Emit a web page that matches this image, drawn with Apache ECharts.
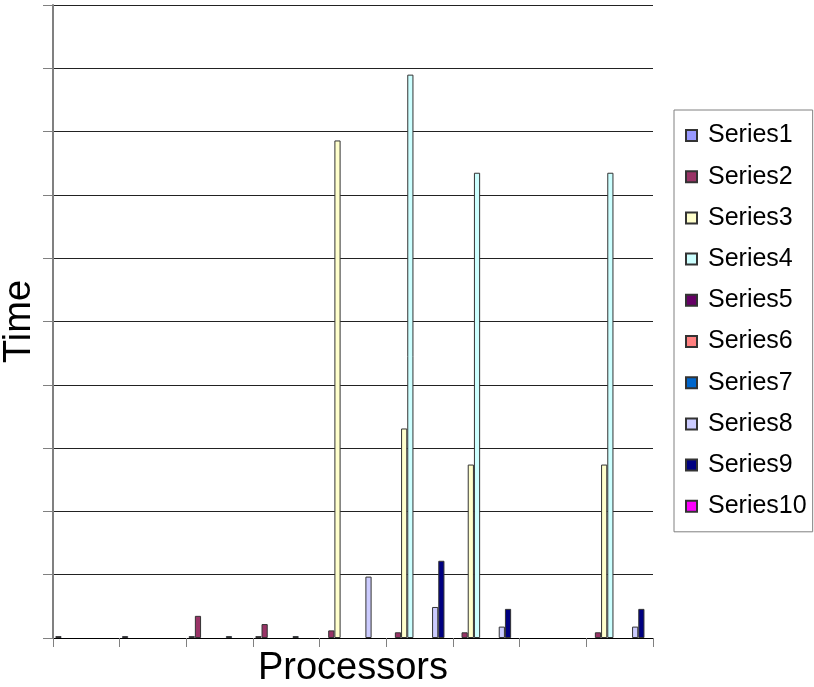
<!DOCTYPE html>
<html>
<head>
<meta charset="utf-8">
<title>Time vs Processors</title>
<script src="https://cdn.jsdelivr.net/npm/echarts@6/dist/echarts.min.js"></script>
<style>
  html, body { margin: 0; padding: 0; background: #fff; }
  #chart { width: 814px; height: 687px; }
</style>
</head>
<body>
<div id="chart"></div>
<script>
// Processor-count groups along the x axis (labels are not drawn)
const categories = ['1', '2', '3', '4', '5', '6', '7', '8', '9'];

// Timings per series; null means no bar in that group
const series1  = [3, 3, 3, 3, null, null, null, null, null];
const series2  = [null, null, 35, 22, 12, 9, 9, null, 9];
const series3  = [null, null, null, null, 786, 331, 274, null, 274];
const series4  = [null, null, null, null, null, 890, 735, null, 735];
const series5  = [null, null, null, null, null, null, null, null, null];
const series6  = [null, null, null, null, null, null, null, null, null];
const series7  = [null, null, 3, 3, null, null, null, null, null];
const series8  = [null, null, null, null, 97, 49, 18, null, 18];
const series9  = [null, null, null, null, null, 122, 46, null, 46];
const series10 = [null, null, null, null, null, null, null, null, null];

const seriesNames = ['Series1', 'Series2', 'Series3', 'Series4', 'Series5',
                     'Series6', 'Series7', 'Series8', 'Series9', 'Series10'];
const seriesData = [series1, series2, series3, series4, series5,
                    series6, series7, series8, series9, series10];
const seriesColors = ['#9999FF', '#993366', '#FFFFCC', '#CCFFFF', '#660066',
                      '#FF8080', '#0066CC', '#CCCCFF', '#000080', '#FF00FF'];

const font = 'Liberation Sans, Arial, sans-serif';

const chart = echarts.init(document.getElementById('chart'), null, { renderer: 'canvas' });

chart.setOption({
  animation: false,
  backgroundColor: '#fff',
  color: seriesColors,
  textStyle: { fontFamily: font },
  grid: { left: 53, right: 161, top: 5, bottom: 49, containLabel: false, outerBoundsMode: 'none' },
  legend: {
    orient: 'vertical',
    left: 674,
    top: 110,
    padding: [13, 6, 13, 11],
    itemWidth: 11,
    itemHeight: 11,
    itemGap: 16.2,
    icon: 'rect',
    borderColor: '#808080',
    borderWidth: 1,
    textStyle: { fontFamily: font, fontSize: 25, color: '#000', lineHeight: 24, padding: [0, 0, 0, 6] },
    data: seriesNames
  },
  xAxis: {
    type: 'category',
    data: categories,
    name: 'Processors',
    nameLocation: 'middle',
    nameGap: 12,
    nameTextStyle: { fontFamily: font, fontSize: 38, color: '#000', verticalAlign: 'top' },
    axisLine: { show: true, lineStyle: { color: '#000', width: 1 } },
    axisTick: { show: true, interval: 0, length: 9, lineStyle: { color: '#808080' } },
    axisLabel: { show: false },
    splitLine: { show: false }
  },
  yAxis: {
    type: 'value',
    min: 0,
    max: 1000,
    interval: 100,
    name: 'Time',
    nameLocation: 'middle',
    nameRotate: 90,
    nameGap: 14,
    nameTextStyle: { fontFamily: font, fontSize: 38, color: '#000' },
    axisLine: { show: true, lineStyle: { color: '#808080', width: 2 } },
    axisTick: { show: true, length: 10, lineStyle: { color: '#808080' } },
    axisLabel: { show: false },
    splitLine: { show: true, lineStyle: { color: '#222', width: 1 } }
  },
  series: seriesNames.map((name, i) => ({
    name: name,
    type: 'bar',
    data: seriesData[i],
    barGap: '0%',
    barCategoryGap: '7%',
    itemStyle: { color: seriesColors[i], borderColor: '#333', borderWidth: 1 }
  }))
});
</script>
</body>
</html>
